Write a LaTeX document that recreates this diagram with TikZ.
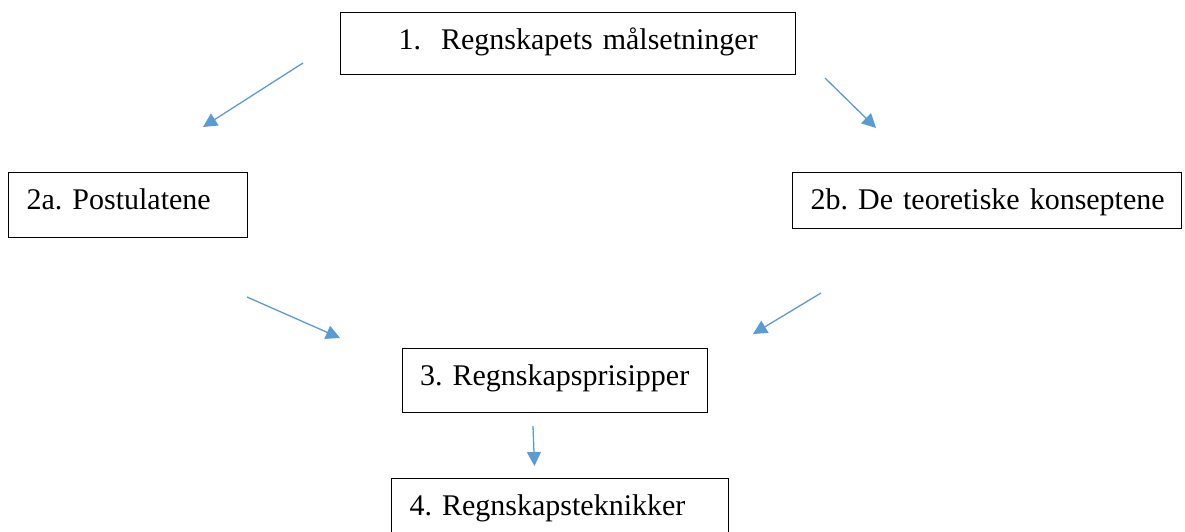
\documentclass[tikz,border=0pt]{standalone}
\usepackage{fontspec}
\setmainfont{Liberation Serif}
\usepackage{xcolor}
\usetikzlibrary{arrows.meta}
\definecolor{flowblue}{HTML}{5B9BD5}
\frenchspacing

\begin{document}
\begin{tikzpicture}[x=1pt,y=-1pt]
	\tikzstyle{every node}=[font=\fontsize{30}{36}\selectfont]
	\tikzstyle{stepbox}=[draw=black, line width=1.3pt, rectangle, anchor=north west, inner xsep=18pt, inner ysep=0pt, text height=37pt, align=left]
	\tikzstyle{flow}=[draw=flowblue, line width=1.3pt, -{Triangle[length=14pt,width=14pt]}]
	\useasboundingbox (0,0) rectangle (1185,532);
	\node [stepbox, text width=419pt, text depth=25pt] (goals) at (340,12) {\mbox{\hspace*{40pt}1.\ \ Regnskapets målsetninger}};
	\node [stepbox, text width=203pt, text depth=28pt] (postulates) at (8,172) {\mbox{2a. Postulatene}};
	\node [stepbox, text width=353pt, text depth=19pt] (concepts) at (792,172) {\mbox{2b. De teoretiske konseptene}};
	\node [stepbox, text width=269pt, text depth=27pt] (principles) at (401.5,348) {\mbox{3. Regnskapsprisipper}};
	\node [stepbox, text width=301pt, text depth=32pt] (techniques) at (391,478) {\mbox{4. Regnskapsteknikker}};
	% arrow ends
	\coordinate (goalsL) at (303,63);
	\coordinate (postT) at (203,127);
	\coordinate (goalsR) at (825,78);
	\coordinate (concT) at (876,128);
	\coordinate (postB) at (247,297);
	\coordinate (princL) at (340,338);
	\coordinate (concB) at (821,293);
	\coordinate (princR) at (753,334);
	\coordinate (princB) at (533,426);
	\coordinate (techT) at (534.5,466);
	\draw [flow] (goalsL) -- (postT);
	\draw [flow] (goalsR) -- (concT);
	\draw [flow] (postB) -- (princL);
	\draw [flow] (concB) -- (princR);
	\draw [flow] (princB) -- (techT);
\end{tikzpicture}
\end{document}
